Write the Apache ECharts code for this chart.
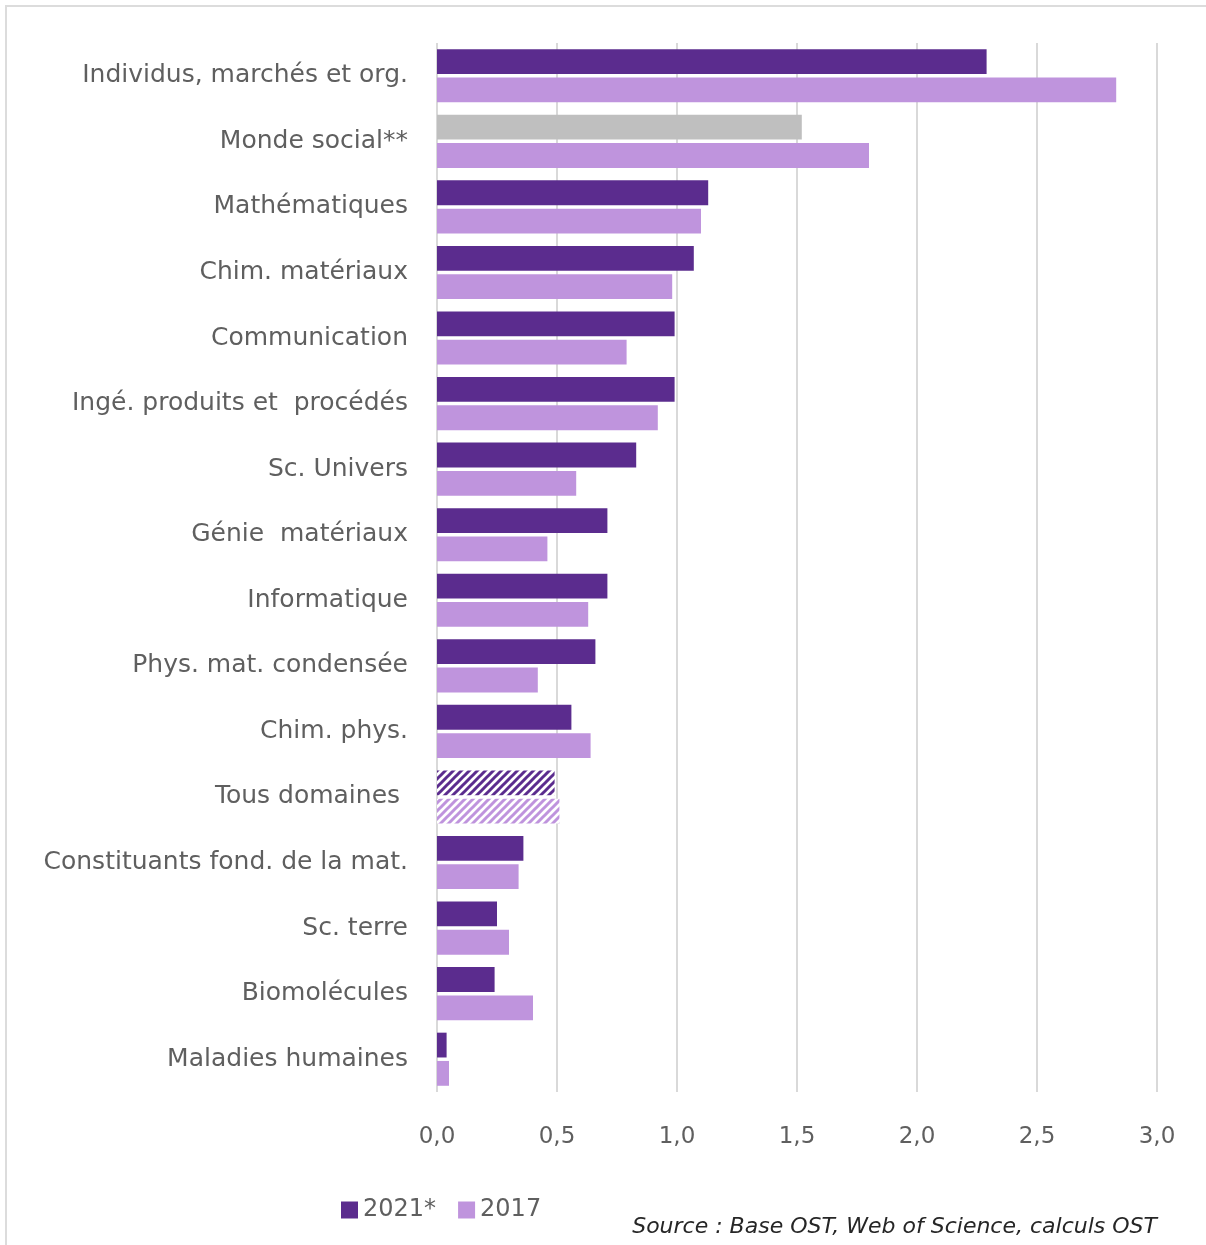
<!DOCTYPE html>
<html>
<head>
<meta charset="utf-8">
<script src="https://cdn.jsdelivr.net/npm/echarts@6/dist/echarts.min.js"></script>
<style>
html, body { margin: 0; padding: 0; background: #fff; }
#frame {
  position: absolute; left: 5px; top: 5px; width: 1201px; height: 1240px;
  border-left: 2px solid #dcdcdc; border-top: 2px solid #dcdcdc;
  box-sizing: border-box;
}
#chart { position: absolute; left: 0; top: 0; width: 1206px; height: 1245px; }
</style>
</head>
<body>
<div id="frame"></div>
<div id="chart"></div>
<script>
// domains, top to bottom
const categories = [
  'Individus, marchés et org.',
  'Monde social**',
  'Mathématiques',
  'Chim. matériaux',
  'Communication',
  'Ingé. produits et  procédés',
  'Sc. Univers',
  'Génie  matériaux',
  'Informatique',
  'Phys. mat. condensée',
  'Chim. phys.',
  'Tous domaines ',
  'Constituants fond. de la mat.',
  'Sc. terre',
  'Biomolécules',
  'Maladies humaines'
];
const values2021 = [2.29, 1.52, 1.13, 1.07, 0.99, 0.99, 0.83, 0.71, 0.71, 0.66, 0.56, 0.49, 0.36, 0.25, 0.24, 0.04];
const values2017 = [2.83, 1.80, 1.10, 0.98, 0.79, 0.92, 0.58, 0.46, 0.63, 0.42, 0.64, 0.51, 0.34, 0.30, 0.40, 0.05];

const dark = '#5b2c8e';
const light = '#bf94dd';
const grey = '#bfbfbf';
const labelColor = '#5f5f5f';
const font = "'DejaVu Sans', sans-serif";

function stripes(color) {
  const c = document.createElement('canvas');
  c.width = 8; c.height = 8;
  const ctx = c.getContext('2d');
  ctx.fillStyle = '#fff';
  ctx.fillRect(0, 0, 8, 8);
  ctx.strokeStyle = color;
  ctx.lineWidth = 3;
  ctx.beginPath();
  ctx.moveTo(-2, 10); ctx.lineTo(10, -2);
  ctx.moveTo(-6, 6); ctx.lineTo(6, -6);
  ctx.moveTo(2, 14); ctx.lineTo(14, 2);
  ctx.stroke();
  return { image: c, repeat: 'repeat' };
}

function buildData(values, special) {
  return values.map(function (v, i) {
    const item = { value: v };
    if (special[categories[i]]) item.itemStyle = { color: special[categories[i]] };
    return item;
  });
}

const data2021 = buildData(values2021, {
  'Monde social**': grey,
  'Tous domaines ': stripes(dark)
});
const data2017 = buildData(values2017, {
  'Tous domaines ': stripes(light)
});

const chart = echarts.init(document.getElementById('chart'));
chart.setOption({
  animation: false,
  textStyle: { fontFamily: font },
  grid: { left: 437, right: 49, top: 43, bottom: 153, containLabel: false },
  legend: {
    left: 336, top: 1193,
    itemWidth: 17, itemHeight: 17, itemGap: 22,
    icon: 'rect',
    textStyle: { fontSize: 24, color: labelColor, fontFamily: font },
    data: ['2021*', '2017']
  },
  xAxis: {
    type: 'value', min: 0, max: 3, interval: 0.5,
    axisLine: { show: false }, axisTick: { show: false },
    splitLine: { lineStyle: { color: '#d9d9d9', width: 2 } },
    axisLabel: {
      fontSize: 23, color: labelColor, margin: 34,
      formatter: function (v) { return v.toFixed(1).replace('.', ','); }
    }
  },
  yAxis: {
    type: 'category', data: categories, inverse: true,
    axisLine: { show: false }, axisTick: { show: false },
    axisLabel: { fontSize: 25, color: labelColor, margin: 29 }
  },
  series: [
    {
      name: '2021*', type: 'bar', data: data2021,
      itemStyle: { color: dark },
      barGap: '14%', barCategoryGap: '19%'
    },
    {
      name: '2017', type: 'bar', data: data2017,
      itemStyle: { color: light },
      barGap: '14%', barCategoryGap: '19%'
    }
  ],
  graphic: [{
    type: 'text', right: 49, top: 1216,
    style: {
      text: 'Source : Base OST, Web of Science, calculs OST',
      font: "italic 22px 'DejaVu Sans', sans-serif",
      fill: '#262626'
    }
  }]
});
</script>
</body>
</html>
